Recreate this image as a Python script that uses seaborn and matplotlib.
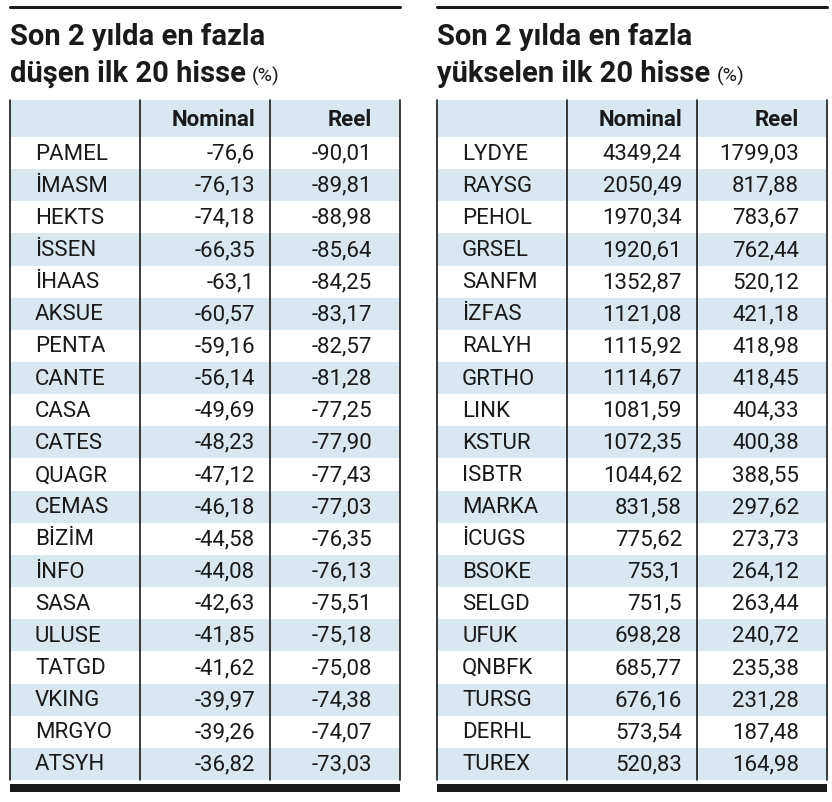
import matplotlib.pyplot as plt
import seaborn as sns

sns.set_theme(style="white")

BLUE = "#d8e7f0"
INK = "#1a1a1a"

# data
down_names = ["PAMEL", "İMASM", "HEKTS", "İSSEN", "İHAAS", "AKSUE", "PENTA", "CANTE",
              "CASA", "CATES", "QUAGR", "CEMAS", "BİZİM", "İNFO", "SASA", "ULUSE",
              "TATGD", "VKING", "MRGYO", "ATSYH"]
down_nominal = ["-76,6", "-76,13", "-74,18", "-66,35", "-63,1", "-60,57", "-59,16", "-56,14",
                "-49,69", "-48,23", "-47,12", "-46,18", "-44,58", "-44,08", "-42,63", "-41,85",
                "-41,62", "-39,97", "-39,26", "-36,82"]
down_reel = ["-90,01", "-89,81", "-88,98", "-85,64", "-84,25", "-83,17", "-82,57", "-81,28",
             "-77,25", "-77,90", "-77,43", "-77,03", "-76,35", "-76,13", "-75,51", "-75,18",
             "-75,08", "-74,38", "-74,07", "-73,03"]

up_names = ["LYDYE", "RAYSG", "PEHOL", "GRSEL", "SANFM", "İZFAS", "RALYH", "GRTHO",
            "LINK", "KSTUR", "ISBTR", "MARKA", "İCUGS", "BSOKE", "SELGD", "UFUK",
            "QNBFK", "TURSG", "DERHL", "TUREX"]
up_nominal = ["4349,24", "2050,49", "1970,34", "1920,61", "1352,87", "1121,08", "1115,92", "1114,67",
              "1081,59", "1072,35", "1044,62", "831,58", "775,62", "753,1", "751,5", "698,28",
              "685,77", "676,16", "573,54", "520,83"]
up_reel = ["1799,03", "817,88", "783,67", "762,44", "520,12", "421,18", "418,98", "418,45",
           "404,33", "400,38", "388,55", "297,62", "273,73", "264,12", "263,44", "240,72",
           "235,38", "231,28", "187,48", "164,98"]

titles = [("Son 2 yılda en fazla", "düşen ilk 20 hisse"),
          ("Son 2 yılda en fazla", "yükselen ilk 20 hisse")]

fig = plt.figure(figsize=(8.32, 8.02), dpi=100)
ax = fig.add_axes([0, 0, 1, 1])
ax.set_xlim(0, 832)
ax.set_ylim(802, 0)
ax.axis("off")

FONT = "Roboto"
TOP, HEAD_H, ROW_H = 100, 37, 32.15
CELL = 16


def draw_table(x0, names, nominal, reel, title):
    x1 = x0 + 390
    c1, c2 = x0 + 130, x0 + 260
    ax.plot([x0, x1], [7, 7], color=INK, lw=2.2)
    ax.text(x0, 37, title[0], fontsize=21, fontweight="bold", family=FONT,
            color=INK, va="center")
    t = ax.text(x0, 74, title[1], fontsize=21, fontweight="bold", family=FONT,
                color=INK, va="center")
    fig.canvas.draw()
    bb = t.get_window_extent().transformed(ax.transData.inverted())
    ax.text(bb.x1 + 6, 76, "(%)", fontsize=14, family=FONT, color=INK, va="center")

    ax.fill_between([x0, x1], TOP, TOP + HEAD_H, color=BLUE, lw=0)
    ax.text(c2 - 15, TOP + HEAD_H / 2 + 2, "Nominal", ha="right", va="center",
            fontsize=CELL, fontweight="bold", family=FONT, color=INK)
    ax.text(x1 - 28, TOP + HEAD_H / 2 + 2, "Reel", ha="right", va="center",
            fontsize=CELL, fontweight="bold", family=FONT, color=INK)
    for i, (n, a, b) in enumerate(zip(names, nominal, reel)):
        y = TOP + HEAD_H + i * ROW_H
        if i % 2 == 1:
            ax.fill_between([x0, x1], y, y + ROW_H, color=BLUE, lw=0)
        yc = y + ROW_H / 2 + 1
        ax.text(x0 + 25, yc, n, va="center", fontsize=CELL, family=FONT, color=INK)
        ax.text(c2 - 15, yc, a, ha="right", va="center", fontsize=CELL, family=FONT, color=INK)
        ax.text(x1 - 28, yc, b, ha="right", va="center", fontsize=CELL, family=FONT, color=INK)
    bottom = TOP + HEAD_H + len(names) * ROW_H
    for x in (x0, c1, c2, x1):
        ax.plot([x, x], [TOP, bottom], color=INK, lw=1.2)
    ax.fill_between([x0, x1], bottom + 4, bottom + 12, color=INK, lw=0)


draw_table(10, down_names, down_nominal, down_reel, titles[0])
draw_table(437, up_names, up_nominal, up_reel, titles[1])

fig.savefig("out.png", dpi=100, facecolor="white")
